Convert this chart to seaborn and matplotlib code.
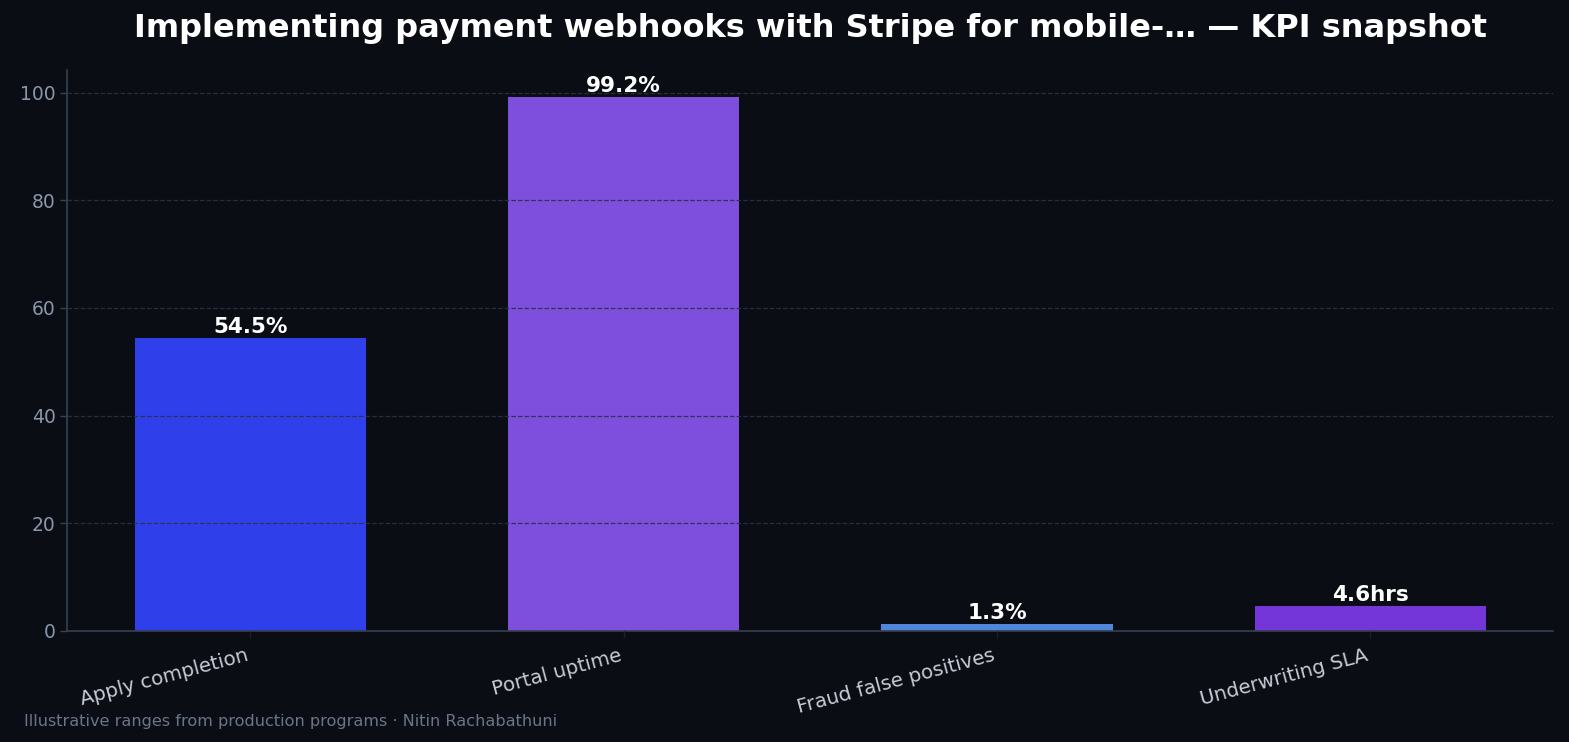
import matplotlib
matplotlib.use("Agg")
import matplotlib.pyplot as plt
import seaborn as sns
import pandas as pd

kpis = ["Apply completion", "Portal uptime", "Fraud false positives", "Underwriting SLA"]
values = [54.5, 99.2, 1.3, 4.6]
value_labels = ["54.5%", "99.2%", "1.3%", "4.6hrs"]
bar_colors = ["#2f40ea", "#7d4fdc", "#4f86dc", "#7436d8"]

bg = "#0a0d14"

sns.set_theme(style="dark")
plt.rcParams["font.family"] = ["DejaVu Sans"]

df = pd.DataFrame({"kpi": kpis, "value": values})

fig, ax = plt.subplots(figsize=(15.69, 7.42), dpi=100)
fig.patch.set_facecolor(bg)
ax.set_facecolor(bg)

sns.barplot(data=df, x="kpi", y="value", hue="kpi", palette=bar_colors,
            width=0.62, legend=False, saturation=1, linewidth=0,
            ax=ax, zorder=2)

# value labels on top of each bar
for i, (v, lab) in enumerate(zip(values, value_labels)):
    ax.text(i, v + 0.15, lab, ha="center", va="bottom", color="white",
            fontsize=15.5, fontweight="bold", zorder=4)

ax.set_xlim(-0.49, 3.49)
ax.set_ylim(0, 104.16)

ax.set_axisbelow(False)
ax.yaxis.grid(True, linestyle="--", color="#2a3142", linewidth=0.9, alpha=0.9, zorder=3)
ax.xaxis.grid(False)

for side in ["top", "right"]:
    ax.spines[side].set_visible(False)
for side in ["left", "bottom"]:
    ax.spines[side].set_visible(True)
    ax.spines[side].set_color("#364152")
    ax.spines[side].set_linewidth(1.2)

ax.tick_params(axis="y", colors="#8a96aa", labelsize=13.5, left=True, length=5, width=1)
ax.tick_params(axis="x", colors="#c8ccd6", labelsize=14.3, bottom=True, length=5, width=1, pad=6)
for t in ax.get_xticklabels():
    t.set_rotation(15)
    t.set_ha("right")
ax.tick_params(axis="x", color="#1a1f29")
ax.tick_params(axis="y", color="#364152")

ax.set_xlabel("")
ax.set_ylabel("")
ax.set_title("Implementing payment webhooks with Stripe for mobile-… — KPI snapshot",
             color="white", fontsize=23, fontweight="bold", pad=24)

fig.text(0.015, 0.022, "Illustrative ranges from production programs · Nitin Rachabathuni",
         color="#6b7588", fontsize=11.6)

plt.subplots_adjust(left=0.043, right=0.99, top=0.905, bottom=0.15)
fig.savefig("out.png", dpi=100, facecolor=bg)
